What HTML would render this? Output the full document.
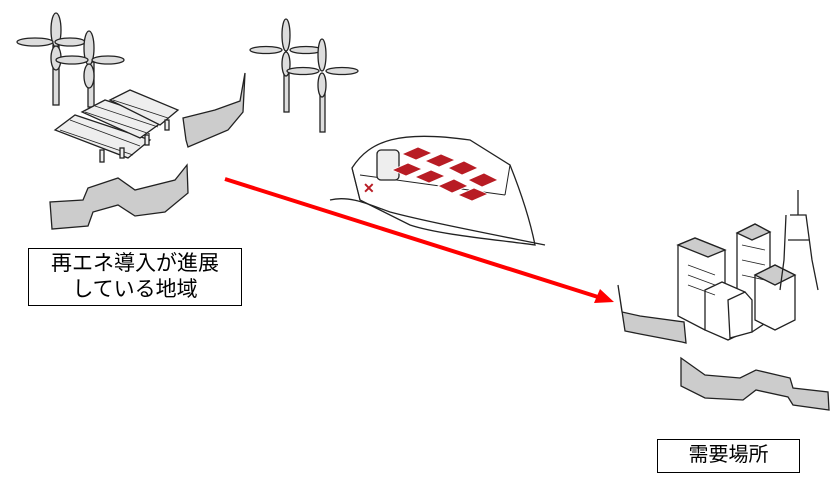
<!DOCTYPE html>
<html><head><meta charset="utf-8"><style>
html,body{margin:0;padding:0;background:#fff;}
body{width:840px;height:484px;position:relative;overflow:hidden;font-family:"Liberation Sans","Noto Sans CJK JP",sans-serif;}
.lbl{position:absolute;border:1.5px solid #000;background:#fff;color:#000;text-align:center;box-sizing:border-box;}
</style></head><body>
<svg width="840" height="484" style="position:absolute;left:0;top:0" stroke="#222" stroke-width="1.3" fill="#fff">
<!-- left coast -->
<polygon fill="#ccc" points="183,118 215,110 240,101 245,73 243,112 228,130 188,147 186,140"/>
<polygon fill="#ccc" points="187,165 175,180 135,190 118,178 88,188 83,200 50,202 52,229 88,226 93,212 118,205 135,216 165,212 188,193"/>
<!-- right coast -->
<polygon fill="#ccc" points="618,285 622,312 640,316 684,322 686,343 682,342 640,334 625,331"/>
<polygon fill="#ccc" points="681,358 705,375 740,378 756,370 790,378 793,388 828,392 829,410 793,405 788,397 756,390 743,400 705,398 681,386"/>
<!-- turbines -->
<g fill="#ddd">
<rect x="53" y="45" width="6" height="60"/>
<rect x="88" y="62" width="6" height="45"/>
<ellipse cx="56" cy="30" rx="5" ry="17"/><ellipse cx="56" cy="58" rx="5" ry="12"/>
<ellipse cx="35" cy="42" rx="18" ry="4"/><ellipse cx="70" cy="42" rx="15" ry="4"/>
<ellipse cx="89" cy="48" rx="5" ry="17"/><ellipse cx="89" cy="76" rx="5" ry="12"/>
<ellipse cx="72" cy="60" rx="16" ry="4"/><ellipse cx="108" cy="60" rx="16" ry="4"/>
<rect x="284" y="60" width="5" height="52"/>
<rect x="320" y="80" width="5" height="52"/>
<ellipse cx="286" cy="35" rx="4" ry="16"/><ellipse cx="286" cy="64" rx="4" ry="12"/>
<ellipse cx="266" cy="50" rx="16" ry="3.5"/><ellipse cx="306" cy="50" rx="16" ry="3.5"/>
<ellipse cx="322" cy="55" rx="4" ry="16"/><ellipse cx="322" cy="85" rx="4" ry="12"/>
<ellipse cx="303" cy="71" rx="16" ry="3.5"/><ellipse cx="342" cy="71" rx="16" ry="3.5"/>
</g>
<!-- solar panels -->
<g fill="#eee">
<polygon points="55,130 75,115 150,140 128,158"/>
<polygon points="82,112 105,100 165,120 140,138"/>
<polygon points="110,100 130,90 178,110 160,125"/>
<path d="M60,130 L133,155 M85,112 L150,134 M113,100 L168,118 M70,120 L140,146 M95,106 L158,127" fill="none" stroke-width="0.8"/>
<rect x="100" y="150" width="4" height="12"/><rect x="120" y="148" width="4" height="10"/><rect x="145" y="135" width="4" height="10"/><rect x="165" y="120" width="4" height="10"/>
</g>
<!-- ship -->
<path d="M352,168 C370,140 400,130 470,140 L510,165 C520,190 530,220 535,245 C500,240 440,235 410,225 L360,200 Z" fill="#fff"/>
<path d="M352,168 L360,200 M360,175 L505,195 M505,195 L510,165" fill="none" stroke-width="1"/>
<path d="M330,200 C350,195 370,205 390,212 C420,220 470,230 520,240 L545,245" fill="none"/>
<rect x="377" y="150" width="22" height="30" rx="4" fill="#eee"/>
<g fill="#b81c24" stroke="#fff" stroke-width="0.8">
<polygon points="402,154 418,147 432,153 416,160"/>
<polygon points="425,161 441,154 455,160 439,167"/>
<polygon points="448,168 464,161 478,168 462,175"/>
<polygon points="468,180 484,173 498,180 482,187"/>
<polygon points="392,170 408,163 422,169 406,176"/>
<polygon points="415,177 431,170 445,176 429,183"/>
<polygon points="438,186 454,179 468,186 452,193"/>
<polygon points="458,195 474,188 488,194 472,201"/>
</g>
<text x="363" y="193" fill="#b81c24" stroke="none" font-size="14" font-weight="bold">✕</text>
<!-- city -->
<g fill="#fff">
<polygon points="678,245 695,238 725,250 725,320 705,330 678,316" />
<polygon points="678,245 695,238 725,250 708,257" fill="#ccc"/>
<polygon points="737,233 755,224 770,232 770,320 752,332 737,320"/>
<polygon points="737,233 755,224 770,232 752,240" fill="#ccc"/>
<polygon points="755,275 775,265 795,275 795,320 775,330 755,320"/>
<polygon points="755,275 775,265 795,275 775,285" fill="#ccc"/>
<polygon points="705,290 722,282 745,292 745,332 728,340 705,330"/>
<polygon points="728,300 745,292 752,300 752,332 730,338"/>
<path d="M798,190 L798,215 M790,215 L806,215 L812,260 L818,290 M786,215 L784,260 L780,290 M788,240 L810,240" fill="none"/>
<path d="M688,265 L715,275 M688,275 L715,285 M688,285 L715,295 M742,245 L765,250 M742,260 L765,265 M742,275 L765,280" fill="none" stroke-width="0.8"/>
</g>
<!-- arrow -->
<line x1="225" y1="179" x2="598" y2="297" stroke="#f00" stroke-width="4"/>
<polygon points="614,302 594,303 600,289" fill="#f00" stroke="none"/>
</svg>
<div class="lbl" style="left:28px;top:248px;width:214px;height:58px;font-size:21px;line-height:26px;padding-top:2px;">再エネ導入が進展<br>している地域</div>
<div class="lbl" style="left:657px;top:439px;width:143px;height:34px;font-size:20px;line-height:31px;">需要場所</div>
</body></html>
